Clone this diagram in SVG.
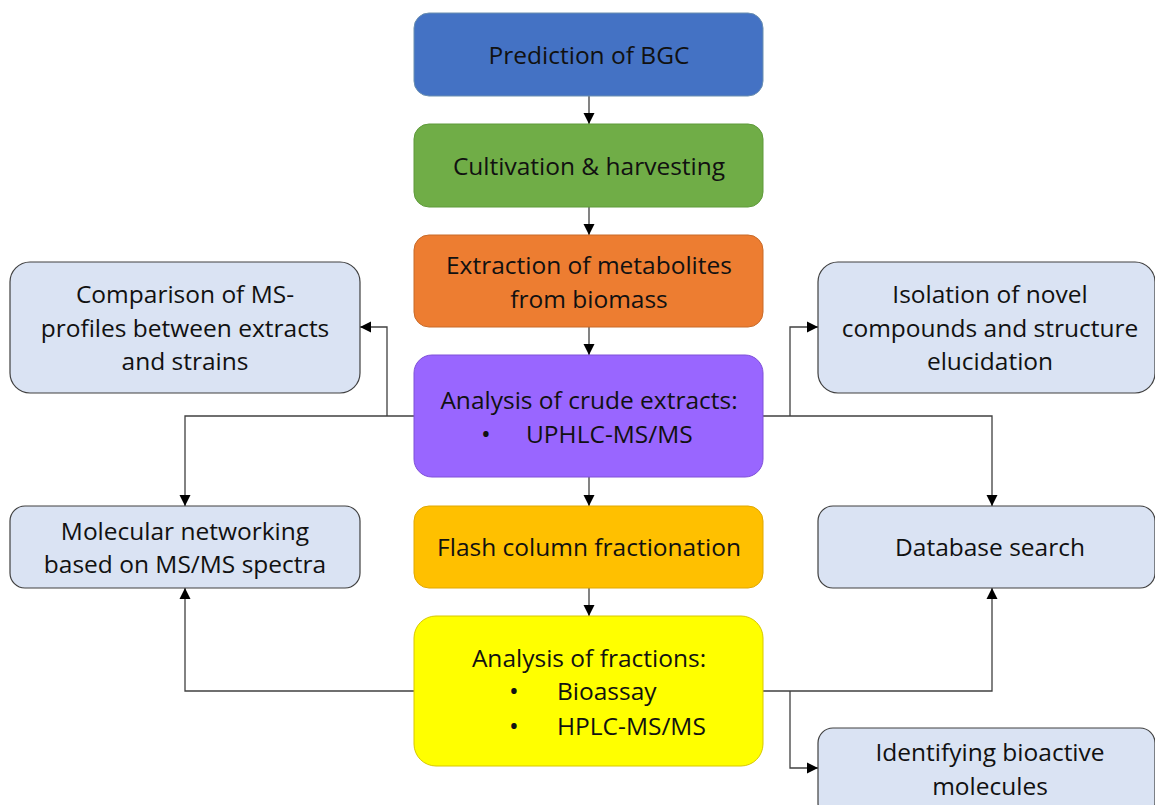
<svg xmlns="http://www.w3.org/2000/svg" width="1155" height="805" viewBox="0 0 1155 805">
<style>
text{font-family:"Open Sans","Liberation Sans",Arial,sans-serif;font-size:24.5px;fill:#111;text-anchor:middle}
.b{font-size:26px}
.side{fill:#DAE3F3;stroke:#404040;stroke-width:1.2}
.con{fill:none;stroke:#404040;stroke-width:1.3}
</style>
<defs>
<marker id="ah" markerUnits="userSpaceOnUse" markerWidth="12" markerHeight="12" refX="11" refY="6" orient="auto">
<path d="M0,0.5 L11,6 L0,11.5 z" fill="#000"/>
</marker>
</defs>
<rect width="1155" height="805" fill="#fff"/>
<g id="connectors">
<path class="con" d="M589,96 V124" marker-end="url(#ah)"/>
<path class="con" d="M589,207 V235" marker-end="url(#ah)"/>
<path class="con" d="M589,327 V355" marker-end="url(#ah)"/>
<path class="con" d="M589,477 V506" marker-end="url(#ah)"/>
<path class="con" d="M589,588 V616" marker-end="url(#ah)"/>
<path class="con" d="M414,416 H185 V506" marker-end="url(#ah)"/>
<path class="con" d="M387,416 V327 H360" marker-end="url(#ah)"/>
<path class="con" d="M763,416 H992 V506" marker-end="url(#ah)"/>
<path class="con" d="M790,416 V327 H818" marker-end="url(#ah)"/>
<path class="con" d="M414,691 H185 V588" marker-end="url(#ah)"/>
<path class="con" d="M763,691 H992 V588" marker-end="url(#ah)"/>
<path class="con" d="M790,691 V768 H818" marker-end="url(#ah)"/>
</g>
<g id="n1"><rect x="414" y="13" width="349" height="83" rx="15" fill="#4472C4" stroke="#6A8FB0" stroke-width="1"/><text x="589" y="64">Prediction of BGC</text></g>
<g id="n2"><rect x="414" y="124" width="349" height="83" rx="15" fill="#70AD47" stroke="#5E9A3A" stroke-width="1"/><text x="589" y="175">Cultivation &amp; harvesting</text></g>
<g id="n3"><rect x="414" y="235" width="349" height="92" rx="15" fill="#ED7D31" stroke="#C86A28" stroke-width="1"/><text x="589" y="274">Extraction of metabolites</text><text x="589" y="308">from biomass</text></g>
<g id="n4"><rect x="414" y="355" width="349" height="122" rx="18" fill="#9966FF" stroke="#7F50D8" stroke-width="1"/><text x="589" y="409">Analysis of crude extracts:</text><text class="b" x="486" y="443">•</text><text x="526" y="443" style="text-anchor:start">UPHLC-MS/MS</text></g>
<g id="n5"><rect x="414" y="506" width="349" height="82" rx="15" fill="#FFC000" stroke="#E0A800" stroke-width="1"/><text x="589" y="556">Flash column fractionation</text></g>
<g id="n6"><rect x="414" y="616" width="349" height="150" rx="22" fill="#FFFF00" stroke="#D8C800" stroke-width="1"/><text x="589" y="667">Analysis of fractions:</text><text class="b" x="514" y="700">•</text><text x="557" y="700" style="text-anchor:start">Bioassay</text><text class="b" x="514" y="735">•</text><text x="557" y="735" style="text-anchor:start">HPLC-MS/MS</text></g>
<g id="l1"><rect class="side" x="10" y="262" width="350" height="131" rx="20"/><text x="185" y="303">Comparison of MS-</text><text x="185" y="337">profiles between extracts</text><text x="185" y="370">and strains</text></g>
<g id="l2"><rect class="side" x="10" y="506" width="350" height="82" rx="15"/><text x="185" y="540">Molecular networking</text><text x="185" y="573">based on MS/MS spectra</text></g>
<g id="r1"><rect class="side" x="818" y="262" width="337" height="131" rx="20"/><text x="990" y="303">Isolation of novel</text><text x="990" y="337">compounds and structure</text><text x="990" y="370">elucidation</text></g>
<g id="r2"><rect class="side" x="818" y="506" width="337" height="82" rx="15"/><text x="990" y="556">Database search</text></g>
<g id="r3"><rect class="side" x="818" y="728" width="337" height="90" rx="15"/><text x="990" y="761">Identifying bioactive</text><text x="990" y="795">molecules</text></g>
</svg>
